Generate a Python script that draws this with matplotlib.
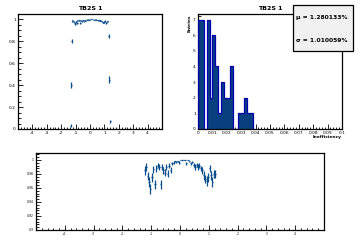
import numpy as np
import matplotlib
matplotlib.use("Agg")
import matplotlib.pyplot as plt
from matplotlib.ticker import MultipleLocator
from matplotlib.patches import Rectangle

# efficiency per position (main cluster)
pos = [-1.225, -1.175, -1.125, -1.075, -1.025, -0.975, -0.925, -0.875, -0.825, -0.775,
       -0.725, -0.675, -0.625, -0.575, -0.525, -0.475, -0.425, -0.375, -0.325, -0.275,
       -0.225, -0.175, -0.125, -0.075, -0.025, 0.025, 0.075, 0.125, 0.175, 0.225,
       0.275, 0.325, 0.375, 0.425, 0.475, 0.525, 0.575, 0.625, 0.675, 0.725,
       0.775, 0.825, 0.875, 0.925, 0.975, 1.025, 1.075, 1.125, 1.175, 1.225]
eff = [0.985, 0.990, 0.977, 0.968, 0.958, 0.975, 0.987, 0.965, 0.988, 0.992,
       0.990, 0.965, 0.990, 0.985, 0.982, 0.990, 0.980, 0.992, 0.986, 0.995,
       0.996, 0.998, 0.997, 0.998, 0.996, 1.000, 1.000, 1.000, 1.000, 0.995,
       1.000, 0.998, 0.995, 0.997, 0.993, 0.990, 0.993, 0.990, 0.992, 0.988,
       0.985, 0.978, 0.973, 0.970, 0.975, 0.988, 0.978, 0.968, 0.980, 0.980]
eff_err = [0.006, 0.006, 0.006, 0.007, 0.007, 0.006, 0.005, 0.007, 0.005, 0.004,
           0.004, 0.006, 0.004, 0.005, 0.005, 0.004, 0.005, 0.003, 0.004, 0.002,
           0.002, 0.001, 0.002, 0.001, 0.002, 0.0, 0.0, 0.0, 0.0, 0.002,
           0.0, 0.001, 0.002, 0.002, 0.003, 0.004, 0.003, 0.004, 0.003, 0.004,
           0.005, 0.006, 0.006, 0.007, 0.006, 0.005, 0.006, 0.007, 0.006, 0.006]

# edge points
edge_pos = [-1.35, -1.30, -1.27, 1.30, 1.35, 1.40]
edge_eff = [0.03, 0.40, 0.80, 0.85, 0.45, 0.07]
edge_err = [0.015, 0.03, 0.02, 0.02, 0.03, 0.015]

# inefficiency histogram (bin width 0.002)
bin_edges = [0.000, 0.002, 0.004, 0.006, 0.008, 0.010, 0.012, 0.014, 0.016, 0.018,
             0.020, 0.022, 0.024, 0.026, 0.028, 0.030, 0.032, 0.034, 0.036, 0.038]
counts = [7, 7, 0, 7, 2, 6, 4, 1, 3, 2, 2, 4, 0, 0, 1, 1, 2, 1, 1]

col = "#0b4f8c"
fs = 3.2

fig = plt.figure(figsize=(3.6, 2.4), dpi=100)


def style(ax):
    for s in ax.spines.values():
        s.set_linewidth(0.9)
    ax.tick_params(which="both", direction="in", top=False, right=False,
                   labelsize=fs, width=0.6, pad=1.5)
    ax.tick_params(which="major", length=3.5)
    ax.tick_params(which="minor", length=1.8)


# top left
ax1 = fig.add_axes([0.05, 0.4625, 0.4, 0.479])
ax1.errorbar(pos, eff, yerr=eff_err, xerr=0.025, fmt="none", ecolor=col, elinewidth=0.9)
ax1.errorbar(edge_pos, edge_eff, yerr=edge_err, xerr=0.025, fmt="none", ecolor=col, elinewidth=0.9)
ax1.set_xlim(-5, 5)
ax1.set_ylim(0, 1.048)
ax1.xaxis.set_minor_locator(MultipleLocator(0.2))
ax1.yaxis.set_minor_locator(MultipleLocator(0.05))
ax1.set_xticks(range(-4, 5))
ax1.set_xticklabels([str(v) for v in range(-4, 5)])
ax1.set_yticks([0, 0.2, 0.4, 0.6, 0.8, 1])
ax1.set_yticklabels(["0", "0.2", "0.4", "0.6", "0.8", "1"])
style(ax1)
fig.text(0.25, 0.965, "TB2S 1", ha="center", va="center", fontsize=4.5, fontweight="bold")

# top right
ax2 = fig.add_axes([0.55, 0.4625, 0.4, 0.479])
ax2.stairs(counts, bin_edges, fill=True, color="#0a3f7f", zorder=2)
ax2.stairs(counts, bin_edges, baseline=0, fill=False, color="#0000b0",
           linewidth=0.9, zorder=3)
ax2.set_xlim(0, 0.1)
ax2.set_ylim(0, 7.35)
ax2.xaxis.set_minor_locator(MultipleLocator(0.002))
ax2.yaxis.set_major_locator(MultipleLocator(1))
ax2.yaxis.set_minor_locator(MultipleLocator(0.2))
ax2.set_xticks(np.arange(0, 0.101, 0.01))
ax2.set_xticklabels(["0", "0.01", "0.02", "0.03", "0.04", "0.05", "0.06", "0.07",
                     "0.08", "0.09", "0.1"])
style(ax2)
ax2.set_xlabel("Inefficiency", fontsize=fs, fontweight="bold", loc="right", labelpad=0)
ax2.set_ylabel("Entries", fontsize=fs, fontweight="bold", loc="top", labelpad=1)
fig.text(0.75, 0.965, "TB2S 1", ha="center", va="center", fontsize=4.5, fontweight="bold")

# stats box
fig.patches.append(Rectangle((0.814, 0.7875), 0.167, 0.1915, transform=fig.transFigure,
                             facecolor="#f0f0f0", edgecolor="black", linewidth=0.9, zorder=5))
fig.text(0.822, 0.925, "\u03bc = 1.280133%", fontsize=4.3, fontweight="bold",
         va="center", zorder=6)
fig.text(0.822, 0.833, "\u03c3 = 1.010059%", fontsize=4.3, fontweight="bold",
         va="center", zorder=6)

# bottom
ax3 = fig.add_axes([0.1, 0.0417, 0.8, 0.321])
ax3.errorbar(pos, eff, yerr=eff_err, xerr=0.025, fmt="none", ecolor=col, elinewidth=0.9)
ax3.errorbar(edge_pos, edge_eff, yerr=edge_err, xerr=0.025, fmt="none", ecolor=col, elinewidth=0.9)
ax3.set_xlim(-5, 5)
ax3.set_ylim(0.9, 1.01)
ax3.xaxis.set_minor_locator(MultipleLocator(0.2))
ax3.yaxis.set_minor_locator(MultipleLocator(0.004))
ax3.set_xticks(range(-4, 5))
ax3.set_xticklabels([str(v) for v in range(-4, 5)])
ax3.set_yticks([0.9, 0.92, 0.94, 0.96, 0.98, 1])
ax3.set_yticklabels(["0.9", "0.92", "0.94", "0.96", "0.98", "1"])
style(ax3)
ax3.tick_params(labelsize=2.2)

fig.savefig("out.png", dpi=100)
